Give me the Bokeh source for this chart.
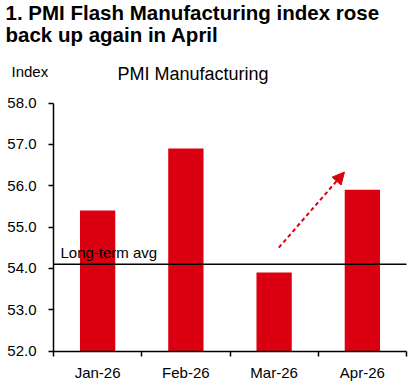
from bokeh.plotting import figure
from bokeh.models import (FixedTicker, Label, Arrow, NormalHead, Range1d,
                          NumeralTickFormatter, CustomJSTickFormatter)
from bokeh.embed import file_html
from bokeh.resources import INLINE

# ---- data ----
months = ["Jan-26", "Feb-26", "Mar-26", "Apr-26"]
pmi = [55.4, 56.9, 53.9, 55.9]
long_term_avg = 54.1
y_ticks = [52, 53, 54, 55, 56, 57, 58]

RED = "#DB0011"
FONT = "Liberation Sans"
TXT = "#000000"

W, H = 411, 385
# plot-area placement in pixels (frame covers whole canvas, axes fixed inside)
LEFT, RIGHT, TOP, BOTTOM = 53, 406, 102.5, 350.5
n = len(months)
y0, y1 = y_ticks[0], y_ticks[-1]
xpx = (RIGHT - LEFT) / n
ypx = (BOTTOM - TOP) / (y1 - y0)

p = figure(width=W, height=H, output_backend="svg", toolbar_location=None,
           x_range=Range1d(-LEFT / xpx, n + (W - RIGHT) / xpx),
           y_range=Range1d(y0 - (H - BOTTOM) / ypx, y1 + TOP / ypx),
           min_border=0, min_border_left=0, min_border_right=0,
           min_border_top=0, min_border_bottom=0)

xs = [i + 0.5 for i in range(n)]
p.vbar(x=xs, top=pmi, bottom=y0, width=0.4, fill_color=RED, line_color=None)

# long-term average line (above bars)
p.line(x=[0, n], y=[long_term_avg, long_term_avg], line_color="black", line_width=1.5)

# x axis: boundary ticks, centred labels
xa = p.xaxis[0]
xa.fixed_location = y0
xa.bounds = (0, n)
xa.ticker = FixedTicker(ticks=xs, minor_ticks=list(range(n + 1)))
xa.formatter = CustomJSTickFormatter(args=dict(labels=months),
                                     code="return labels[Math.floor(tick)] || '';")
xa.major_tick_out = 0
xa.major_tick_in = 0
xa.minor_tick_out = 5
xa.minor_tick_in = 0
xa.minor_tick_line_color = "black"
xa.minor_tick_line_width = 1.5
xa.axis_line_color = "black"
xa.axis_line_width = 1.5
xa.major_label_standoff = 8
xa.major_label_text_font = FONT
xa.major_label_text_font_size = "15px"
xa.major_label_text_color = TXT

ya = p.yaxis[0]
ya.fixed_location = 0
ya.bounds = (y0, y1)
ya.ticker = FixedTicker(ticks=y_ticks)
ya.formatter = NumeralTickFormatter(format="0.0")
ya.major_tick_out = 5
ya.major_tick_in = 0
ya.minor_tick_line_color = None
ya.major_tick_line_color = "black"
ya.major_tick_line_width = 1.5
ya.axis_line_color = "black"
ya.axis_line_width = 1.5
ya.major_label_standoff = 12
ya.major_label_text_font = FONT
ya.major_label_text_font_size = "15px"
ya.major_label_text_color = TXT

p.xgrid.grid_line_color = None
p.ygrid.grid_line_color = None
p.outline_line_color = None

p.add_layout(Label(x=0, y=long_term_avg, x_offset=7, y_offset=3, text="Long-term avg",
                   text_font=FONT, text_font_size="15px", text_color=TXT))

# dashed arrow
p.add_layout(Arrow(x_start=2.553, y_start=54.50, x_end=3.297, y_end=56.33,
                   line_color=RED, line_width=2, line_dash="4 3",
                   end=NormalHead(size=12, fill_color=RED, line_color=RED)))

# titles and labels
p.add_layout(Label(x=0, y=y1, x_offset=-48, y_offset=TOP - 23.3,
                   text="1. PMI Flash Manufacturing index rose", text_font=FONT,
                   text_font_style="bold", text_font_size="20.5px", text_color=TXT))
p.add_layout(Label(x=0, y=y1, x_offset=-48, y_offset=TOP - 45,
                   text="back up again in April", text_font=FONT,
                   text_font_style="bold", text_font_size="20.5px", text_color=TXT))
p.add_layout(Label(x=0, y=y1, x_offset=-42, y_offset=TOP - 79, text="Index",
                   text_font=FONT, text_font_size="15px", text_color=TXT))
p.add_layout(Label(x=0, y=y1, x_offset=64, y_offset=TOP - 83, text="PMI Manufacturing",
                   text_font=FONT, text_font_size="18px", text_color=TXT))

open("out.html", "w").write(file_html(p, INLINE))
